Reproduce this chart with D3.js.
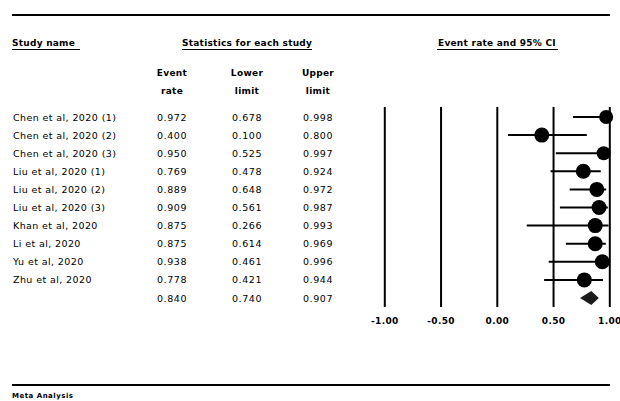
<!DOCTYPE html>
<html>
<head>
<meta charset="utf-8">
<script src="https://cdn.jsdelivr.net/npm/d3@7"></script>
<style>
  body { margin: 0; background: #fff; }
  svg { display: block; }
  text { font-family: "DejaVu Sans", sans-serif; fill: #000; }
</style>
</head>
<body>
<svg id="chart" width="620" height="401"></svg>
<script>
const studyNames = [
    'Chen et al, 2020 (1)', 'Chen et al, 2020 (2)', 'Chen et al, 2020 (3)',
    'Liu et al, 2020 (1)', 'Liu et al, 2020 (2)', 'Liu et al, 2020 (3)',
    'Khan et al, 2020', 'Li et al, 2020', 'Yu et al, 2020', 'Zhu et al, 2020'
];
const eventRates = [0.972, 0.400, 0.950, 0.769, 0.889, 0.909, 0.875, 0.875, 0.938, 0.778];
const lowerLimits = [0.678, 0.100, 0.525, 0.478, 0.648, 0.561, 0.266, 0.614, 0.461, 0.421];
const upperLimits = [0.998, 0.800, 0.997, 0.924, 0.972, 0.987, 0.993, 0.969, 0.996, 0.944];
// marker radius (study weight)
const markerSizes = [7, 7.5, 7, 7.5, 7.5, 7.5, 7.5, 7.5, 7.5, 7.5];
const summary = { rate: 0.840, lower: 0.740, upper: 0.907 };
const axisTicks = [-1, -0.5, 0, 0.5, 1];

const svg = d3.select('#chart');
const fmt = d3.format('.3f');

// Let's set the scales
const x = d3.scaleLinear().domain([-1, 1]).range([384.3, 609.3]);
const y = d3.scalePoint().domain(d3.range(studyNames.length + 1)).range([117, 298]);

// top and bottom rules
svg.append('line').attr('x1', 12).attr('x2', 610).attr('y1', 15).attr('y2', 15)
    .style('stroke', '#000').style('stroke-width', 2);
svg.append('line').attr('x1', 12).attr('x2', 610).attr('y1', 385).attr('y2', 385)
    .style('stroke', '#000').style('stroke-width', 2);

// Headers
const headers = [
    { text: 'Study name', x: 12, x1: 12, x2: 80 },
    { text: 'Statistics for each study', x: 182, x1: 182, x2: 312 },
    { text: 'Event rate and 95% CI', x: 438, x1: 437, x2: 558 }
];
headers.forEach(h => {
    svg.append('text').attr('x', h.x).attr('y', 46).text(h.text)
        .style('font-size', '9px').style('font-weight', 'bold').style('letter-spacing', '0.25px');
    svg.append('line').attr('x1', h.x1).attr('x2', h.x2).attr('y1', 49.5).attr('y2', 49.5)
        .style('stroke', '#000').style('stroke-width', 1);
});

const colX = [172, 247, 318];
const colHead = [['Event', 'rate'], ['Lower', 'limit'], ['Upper', 'limit']];
colHead.forEach((c, i) => {
    c.forEach((t, j) => {
        svg.append('text').attr('x', colX[i]).attr('y', 75.5 + j * 18).text(t)
            .attr('text-anchor', 'middle')
            .style('font-size', '9px').style('font-weight', 'bold').style('letter-spacing', '0.3px');
    });
});

// Study rows
const rows = studyNames.map((name, i) => ({
    name, rate: eventRates[i], lower: lowerLimits[i], upper: upperLimits[i], r: markerSizes[i], i
}));

svg.append('g').selectAll('text').data(rows).enter().append('text')
    .attr('x', 13).attr('y', d => y(d.i) + 3.5)
    .text(d => d.name)
    .style('font-size', '9.5px').style('letter-spacing', '0.4px');

const allRows = rows.concat([{ rate: summary.rate, lower: summary.lower, upper: summary.upper, i: studyNames.length }]);
['rate', 'lower', 'upper'].forEach((key, k) => {
    svg.append('g').selectAll('text').data(allRows).enter().append('text')
        .attr('x', colX[k]).attr('y', d => y(d.i) + 3.5)
        .attr('text-anchor', 'middle')
        .text(d => fmt(d[key]))
        .style('font-size', '9.5px').style('letter-spacing', '0.6px');
});

// Axis with full-height grid lines
const axis = svg.append('g')
    .attr('transform', 'translate(0,307)')
    .call(d3.axisBottom(x).tickValues(axisTicks)
        .tickFormat(d => d3.format('.2f')(d).replace('\u2212', '-'))
        .tickSizeInner(-200).tickSizeOuter(0).tickPadding(11));
axis.select('.domain').remove();
axis.selectAll('.tick line').style('stroke', '#000').style('stroke-width', 2);
axis.selectAll('.tick text')
    .style('font-family', '"DejaVu Sans", sans-serif')
    .style('font-size', '9px').style('font-weight', 'bold').style('fill', '#000')
    .style('letter-spacing', '0.3px');

// CI lines and markers
const plot = svg.append('g');
plot.selectAll('line.ci').data(rows).enter().append('line')
    .attr('class', 'ci')
    .attr('x1', d => x(d.lower)).attr('x2', d => x(d.upper))
    .attr('y1', d => y(d.i)).attr('y2', d => y(d.i))
    .style('stroke', '#000').style('stroke-width', 2);
plot.selectAll('circle').data(rows).enter().append('circle')
    .attr('cx', d => x(d.rate)).attr('cy', d => y(d.i)).attr('r', d => d.r)
    .attr('fill', '#000');

// Summary diamond
const sy = y(studyNames.length);
plot.append('path')
    .attr('d', `M${x(summary.lower)},${sy} L${x(summary.rate)},${sy - 7} L${x(summary.upper)},${sy} L${x(summary.rate)},${sy + 7} Z`)
    .attr('fill', '#1a1a1a');

svg.append('text').attr('x', 12).attr('y', 398).text('Meta Analysis')
    .style('font-size', '7px').style('font-weight', 'bold').style('letter-spacing', '0.5px');
</script>
</body>
</html>
